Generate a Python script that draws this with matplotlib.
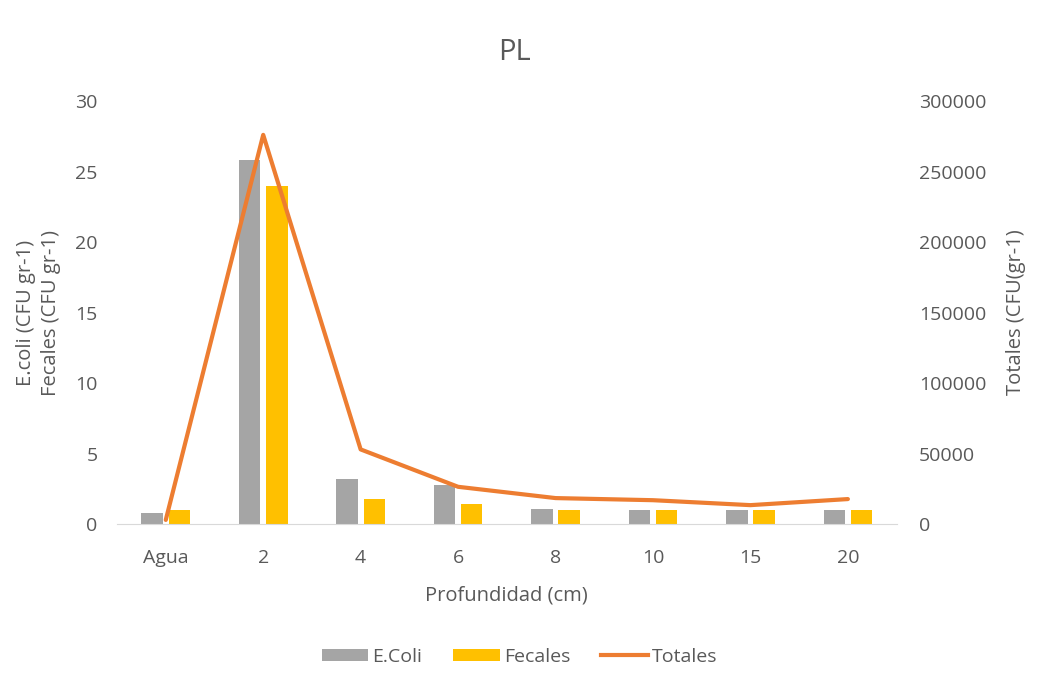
# Libraries
import numpy as np
import matplotlib.pyplot as plt
from matplotlib.patches import Patch
from matplotlib.lines import Line2D

plt.rcParams['font.family'] = ['Open Sans', 'DejaVu Sans']

# Data
categories = ['Agua', '2', '4', '6', '8', '10', '15', '20']
ecoli = [0.8, 25.8, 3.2, 2.8, 1.1, 1.0, 1.0, 1.0]
fecales = [1.0, 24.0, 1.8, 1.4, 1.0, 1.0, 1.0, 1.0]
totales = [3000, 276000, 53000, 26500, 18500, 17000, 13500, 17800]

grey = '#A5A5A5'
gold = '#FFC000'
orange = '#ED7D31'
text_col = '#595959'

x = np.arange(len(categories))
w = 0.22

fig = plt.figure(figsize=(10.45, 6.87), dpi=100)
ax = fig.add_axes([0.112, 0.237, 0.746, 0.616])
ax2 = ax.twinx()

ax.bar(x - 0.14, ecoli, width=w, color=grey)
ax.bar(x + 0.14, fecales, width=w, color=gold)
ax2.plot(x, totales, color=orange, linewidth=3, solid_capstyle='round')

ax.set_xlim(-0.5, len(categories) - 0.5)
ax.set_ylim(0, 30)
ax2.set_ylim(0, 300000)
ax.set_yticks(range(0, 31, 5))
ax2.set_yticks(range(0, 300001, 50000))
ax.set_xticks(x)
ax.set_xticklabels(categories)

for a in (ax, ax2):
    for s in a.spines.values():
        s.set_visible(False)
    a.tick_params(length=0, labelsize=14, colors=text_col)
ax.spines['bottom'].set_visible(True)
ax.spines['bottom'].set_color('#D9D9D9')
ax.tick_params(axis='x', pad=18)
ax.tick_params(axis='y', pad=14)
ax2.tick_params(axis='y', pad=16)

ax.set_xlabel('Profundidad (cm)', fontsize=14.5, color=text_col, labelpad=13)
ax.set_ylabel('E.coli (CFU gr-1)\nFecales (CFU gr-1)', fontsize=14.5, color=text_col,
              labelpad=10, linespacing=1.35)
ax2.set_ylabel('Totales (CFU(gr-1)', fontsize=14.5, color=text_col, labelpad=14)
fig.text(0.492, 0.924, 'PL', fontsize=21, color=text_col, ha='center', va='center')

handles = [
    Patch(facecolor=grey, label='E.Coli'),
    Patch(facecolor=gold, label='Fecales'),
    Line2D([0], [0], color=orange, linewidth=3, label='Totales'),
]
fig.legend(handles=handles, loc='center', bbox_to_anchor=(0.497, 0.044), ncol=3,
           frameon=False, fontsize=14, labelcolor=text_col, handlelength=2.4,
           handleheight=0.55, columnspacing=1.6, handletextpad=0.2)

plt.savefig('out.png', dpi=100)
